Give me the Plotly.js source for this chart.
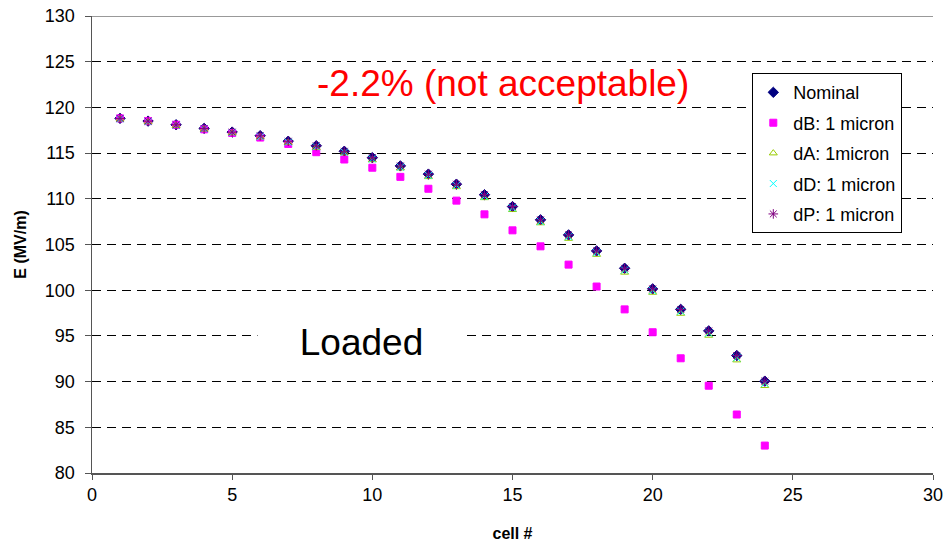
<!DOCTYPE html>
<html>
<head>
<meta charset="utf-8">
<script src="https://cdn.plot.ly/plotly-3.0.1.min.js"></script>
<style>html,body{margin:0;padding:0;background:#fff;}#chart{width:944px;height:544px;}</style>
</head>
<body>
<div id="chart"></div>
<script>
const cells = [1,2,3,4,5,6,7,8,9,10,11,12,13,14,15,16,17,18,19,20,21,22,23,24];
const nominal = [118.8,118.5,118.1,117.7,117.3,116.9,116.3,115.8,115.2,114.5,113.6,112.7,111.6,110.45,109.15,107.7,106.05,104.3,102.4,100.15,97.9,95.55,92.85,90.05];
const dB = [118.8,118.5,118.1,117.6,117.2,116.7,116.0,115.1,114.3,113.4,112.4,111.1,109.8,108.3,106.55,104.8,102.8,100.4,97.9,95.4,92.55,89.55,86.4,83.0];
const dA = [118.7,118.4,118.0,117.6,117.2,116.75,116.15,115.6,115.0,114.25,113.35,112.4,111.3,110.1,108.8,107.35,105.65,103.9,101.95,99.75,97.45,95.05,92.35,89.55];
const dD = [118.75,118.45,118.05,117.65,117.25,116.8,116.2,115.7,115.1,114.35,113.45,112.55,111.45,110.25,109.0,107.5,105.85,104.1,102.2,99.95,97.7,95.3,92.6,89.8];
const dP = [118.8,118.5,118.1,117.7,117.3,116.9,116.3,115.8,115.2,114.5,113.6,112.7,111.6,110.45,109.15,107.7,106.05,104.3,102.4,100.15,97.9,95.55,92.85,90.05];
const names = ["Nominal","dB: 1 micron","dA: 1micron","dD: 1 micron","dP: 1 micron"];
const xTicks = [0,5,10,15,20,25,30];
const yTicks = [80,85,90,95,100,105,110,115,120,125,130];

function tr(y, name, symbol, color, size, group) {
  return {x: cells, y: y, name: name, type: 'scatter', mode: 'markers', legendgroup: group,
    marker: {symbol: symbol, color: color, size: size, line: {color: color, width: 1}}};
}
const data = [
  tr(nominal, names[0], 'diamond', '#000080', 8, 'a'),
  tr(dB, names[1], 'square', '#FF00FF', 7, 'b'),
  tr(dA, names[2], 'triangle-up-open', '#99CC00', 7, 'c'),
  tr(dD, names[3], 'x-thin-open', '#00FFFF', 7, 'd'),
  tr(dP, names[4], 'asterisk-open', '#800080', 8, 'e')
];

const layout = {
  width: 944, height: 544,
  margin: {l: 92, r: 11, t: 16, b: 71},
  paper_bgcolor: '#fff', plot_bgcolor: '#fff',
  font: {family: 'Liberation Sans, Arial, sans-serif', color: '#000', size: 18},
  showlegend: true,
  legend: {x: 0.9635, y: 0.875, xanchor: 'right', yanchor: 'top', bgcolor: '#fff',
    bordercolor: '#000', borderwidth: 1, font: {size: 18}, tracegroupgap: 4,
    traceorder: 'grouped', itemwidth: 30},
  xaxis: {range: [0, 30], tickvals: xTicks, ticktext: xTicks.map(String), ticks: 'outside', ticklen: 5,
    tickcolor: '#555', showline: true, linecolor: '#555', linewidth: 1.5, showgrid: false, zeroline: false,
    tickfont: {size: 18},
    title: {text: '<b>cell #</b>', font: {size: 16}, standoff: 23}},
  yaxis: {range: [80, 130], tickvals: yTicks, ticktext: yTicks.map(String), ticks: 'outside', ticklen: 6,
    tickcolor: '#555', showline: true, linecolor: '#555', linewidth: 1.5, showgrid: true,
    gridcolor: '#000', gridwidth: 1, griddash: '9px,6px', zeroline: false,
    tickfont: {size: 18}, ticklabelstandoff: 6,
    title: {text: '<b>E (MV/m)</b>', font: {size: 16}, standoff: 14}},
  shapes: [{type: 'line', xref: 'paper', yref: 'y', x0: 0, x1: 1, y0: 130, y1: 130,
    line: {color: '#777', width: 1.5}}],
  annotations: [
    {x: 14.66, y: 122.6, xref: 'x', yref: 'y', text: '-2.2% (not acceptable)', showarrow: false,
      font: {size: 37, color: '#FF0000'}},
    {x: 9.62, y: 94.3, xref: 'x', yref: 'y', text: 'Loaded', showarrow: false,
      font: {size: 37, color: '#000'}, bgcolor: '#fff', width: 205}
  ]
};
Plotly.newPlot('chart', data, layout, {displayModeBar: false, staticPlot: true});
</script>
</body>
</html>
